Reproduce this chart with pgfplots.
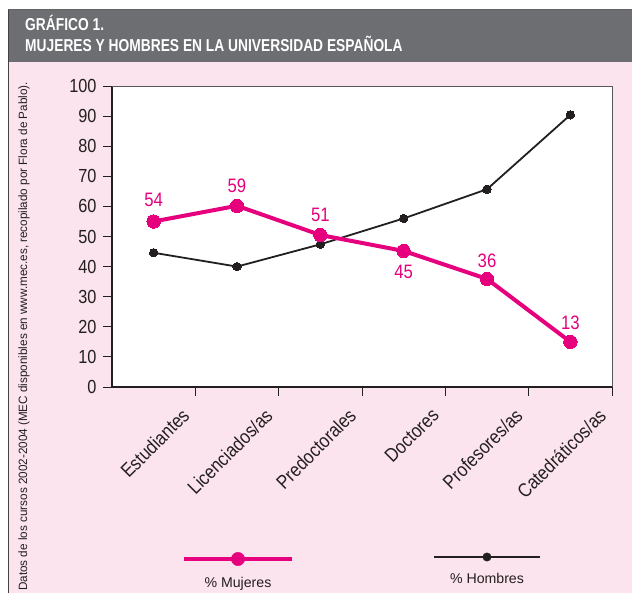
\documentclass[border=0pt]{standalone}
\usepackage{pgfplots}
\pgfplotsset{compat=1.18}
\usepackage{fontspec}
\setmainfont[FakeStretch=0.86]{Liberation Sans}
\newfontfamily\srcfont[FakeStretch=0.97]{Liberation Sans}
\newfontfamily\legfont{Liberation Sans}
\newfontfamily\titfont[FakeStretch=0.8]{Liberation Sans}
\definecolor{pinkbg}{RGB}{251,228,237}
\definecolor{mag}{RGB}{230,0,126}
\definecolor{greybar}{RGB}{109,110,113}
\definecolor{dk}{RGB}{35,31,32}
\begin{document}
\begin{tikzpicture}
\useasboundingbox (0,0) rectangle (632bp,593bp);
\fill[white] (0,0) rectangle (632bp,593bp);
\fill[pinkbg] (8bp,0) rectangle (632bp,531bp);
\fill[greybar] (8bp,531bp) rectangle (632bp,584bp);
\draw[dk!85, line width=1bp] (8.5bp,0) -- (8.5bp,584bp);
\draw[dk!70, line width=0.8bp] (8bp,584bp) -- (632bp,584bp);
\node[anchor=base west, inner sep=0, text=white, font=\titfont\bfseries\fontsize{17.3}{18}\selectfont] at (25bp,562bp) {GRÁFICO 1.};
\node[anchor=base west, inner sep=0, text=white, font=\titfont\bfseries\fontsize{17.3}{18}\selectfont] at (25bp,541bp) {MUJERES Y HOMBRES EN LA UNIVERSIDAD ESPAÑOLA};
\node[rotate=90, anchor=base west, inner sep=0, text=dk, font=\srcfont\fontsize{12.1}{13}\selectfont] at (27bp,2bp) {Datos de los cursos 2002-2004 (MEC disponibles en www.mec.es, recopilado por Flora de Pablo).};
\begin{axis}[
  at={(112bp,206bp)}, anchor=south west,
  width=500bp, height=301bp, scale only axis,
  xmin=-0.5, xmax=5.5, ymin=0, ymax=100,
  axis background/.style={fill=white},
  axis x line*=bottom, axis y line*=left,
  axis line style={-, dk, line width=1.5bp},
  xtick={0.5,1.5,2.5,3.5,4.5,5.5},
  xticklabels={Estudiantes, Licenciados/as, Predoctorales, Doctores, Profesores/as, Catedráticos/as},
  ytick={0,10,...,100},
  tick align=outside, major tick length=9bp,
  tick style={dk, line width=0.8bp},
  /pgf/number format/assume math mode=true,
  yticklabel style={font=\fontsize{19}{19}\selectfont, text=dk, xshift=-3bp},
  xticklabel style={font=\fontsize{19.5}{19.5}\selectfont, text=dk, rotate=45, anchor=north east, xshift=-14.9bp, yshift=6bp},
  clip=false,
  legend columns=2,
  legend style={at={(0.002,-0.5349)}, anchor=north west, draw=none, fill=none, inner sep=0pt, outer sep=0pt, column sep=0pt, nodes={inner sep=0pt}},
  after end axis/.code={\draw[dk!75, line width=0.6bp] (rel axis cs:0,1) -- (rel axis cs:1,1) -- (rel axis cs:1,0);},
]
\addplot[forget plot, dk, line width=1.8bp, mark=*, mark size=4.2bp, mark options={fill=dk, draw=dk, line width=0pt}] coordinates {(0,44.6) (1,40.0) (2,47.4) (3,56.0) (4,65.7) (5,90.4)};
\addplot[forget plot, mag, line width=4bp, mark=*, mark size=6.7bp, mark options={fill=mag, draw=mag, line width=0pt}] coordinates {(0,55.0) (1,60.2) (2,50.5) (3,45.2) (4,35.9) (5,15.0)};
\addplot[forget plot, draw=none, mark=none, nodes near coords, point meta=explicit symbolic, nodes near coords style={anchor=center, inner sep=0pt, text=mag, font=\fontsize{19.5}{20}\selectfont}] coordinates {(0,62.1)[54] (1,66.9)[59] (2,57.3)[51] (3,38.2)[45] (4,42.0)[36] (5,21.4)[13]};
\addlegendimage{legend image code/.code={
  \path[draw=none, fill=none] (-125bp,-15bp) rectangle (125bp,35bp);
  \draw[mag, line width=4bp] (-54bp,24bp) -- (54bp,24bp);
  \fill[mag] (0,24bp) circle (6.7bp);
  \node[text=dk, font=\legfont\fontsize{14.2}{14}\selectfont, inner sep=0pt] at (0,0) {\% Mujeres};
}}
\addlegendentry{\mbox{}}
\addlegendimage{legend image code/.code={
  \path[draw=none, fill=none] (-125bp,-15bp) rectangle (125bp,35bp);
  \draw[dk, line width=1.8bp] (-55bp,26bp) -- (51bp,26bp);
  \fill[dk] (-2bp,26bp) circle (4.2bp);
  \node[text=dk, font=\legfont\fontsize{14.2}{14}\selectfont, inner sep=0pt] at (-2bp,4bp) {\% Hombres};
}}
\addlegendentry{\mbox{}}
\end{axis}
\end{tikzpicture}
\end{document}
